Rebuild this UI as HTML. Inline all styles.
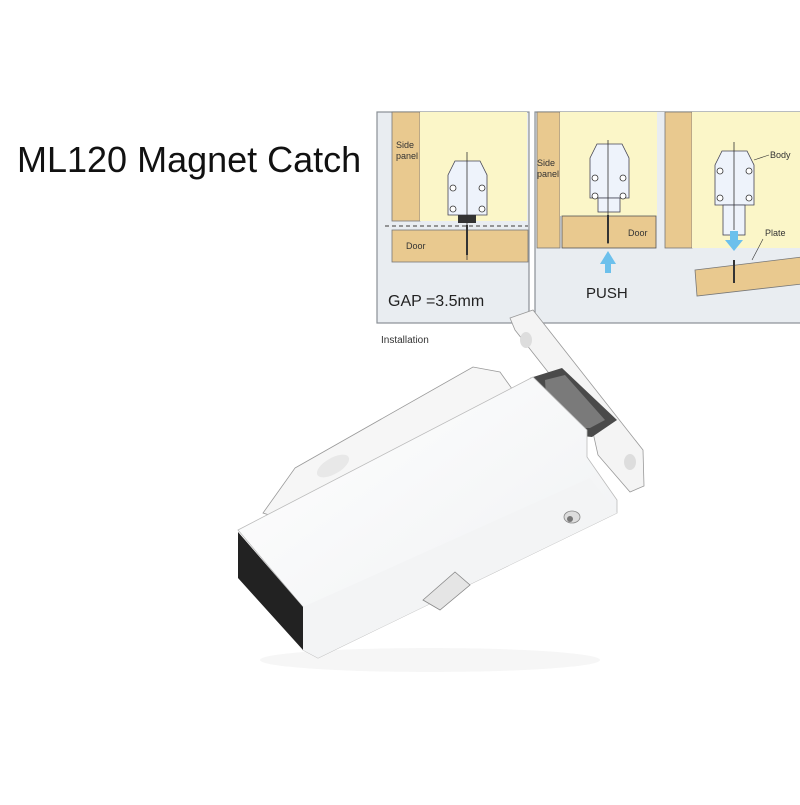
<!DOCTYPE html>
<html><head><meta charset="utf-8"><style>
html,body{margin:0;padding:0;background:#fff;}
</style></head><body>
<svg width="800" height="800" viewBox="0 0 800 800" xmlns="http://www.w3.org/2000/svg" font-family="Liberation Sans, Arial, sans-serif">
<rect width="800" height="800" fill="#fff"/>
<text x="17" y="172" font-size="36" fill="#111">ML120 Magnet Catch</text>

<!-- panel 1 -->
<rect x="377" y="112" width="152" height="211" fill="#e9edf1" stroke="#8a8f95" stroke-width="1.2"/>
<rect x="392" y="112" width="28" height="109" fill="#e9c98f" stroke="#777" stroke-width="0.8"/>
<rect x="420" y="112" width="107" height="109" fill="#fbf6c8"/>
<rect x="392" y="230" width="136" height="32" fill="#e9c98f" stroke="#777" stroke-width="0.8"/>
<line x1="385" y1="226" x2="528" y2="226" stroke="#777" stroke-width="1.5" stroke-dasharray="4 3"/>
<text x="396" y="148" font-size="9" fill="#333">Side</text>
<text x="396" y="159" font-size="9" fill="#333">panel</text>
<text x="406" y="249" font-size="9" fill="#333">Door</text>
<path d="M448 175 L455 161 L480 161 L487 175 L487 215 L448 215 Z" fill="#eef3fb" stroke="#445" stroke-width="0.8"/>
<rect x="458" y="215" width="18" height="8" fill="#333"/>
<line x1="467" y1="152" x2="467" y2="260" stroke="#333" stroke-width="0.8"/>
<line x1="467" y1="225" x2="467" y2="255" stroke="#333" stroke-width="2"/>
<circle cx="453" cy="188" r="3" fill="#fff" stroke="#333" stroke-width="0.8"/>
<circle cx="482" cy="188" r="3" fill="#fff" stroke="#333" stroke-width="0.8"/>
<circle cx="453" cy="209" r="3" fill="#fff" stroke="#333" stroke-width="0.8"/>
<circle cx="482" cy="209" r="3" fill="#fff" stroke="#333" stroke-width="0.8"/>
<text x="388" y="306" font-size="16" fill="#222">GAP =3.5mm</text>
<text x="381" y="343" font-size="10" fill="#333">Installation</text>

<!-- panel 2/3 -->
<rect x="535" y="112" width="270" height="211" fill="#e9edf1" stroke="#8a8f95" stroke-width="1.2"/>
<rect x="537" y="112" width="23" height="136" fill="#e9c98f" stroke="#777" stroke-width="0.8"/>
<rect x="560" y="112" width="97" height="104" fill="#fbf6c8"/>
<rect x="562" y="216" width="94" height="32" fill="#e9c98f" stroke="#555" stroke-width="0.8"/>
<rect x="657" y="112" width="8" height="150" fill="#e9edf1"/>
<text x="537" y="166" font-size="9" fill="#333">Side</text>
<text x="537" y="177" font-size="9" fill="#333">panel</text>
<text x="628" y="236" font-size="9" fill="#333">Door</text>
<path d="M590 158 L597 144 L622 144 L629 158 L629 198 L590 198 Z" fill="#eef3fb" stroke="#445" stroke-width="0.8"/>
<rect x="598" y="198" width="22" height="14" fill="#eef3fb" stroke="#445" stroke-width="0.8"/>
<line x1="608" y1="140" x2="608" y2="244" stroke="#333" stroke-width="0.8"/>
<line x1="608" y1="215" x2="608" y2="243" stroke="#333" stroke-width="2"/>
<circle cx="595" cy="178" r="3" fill="#fff" stroke="#333" stroke-width="0.8"/>
<circle cx="623" cy="178" r="3" fill="#fff" stroke="#333" stroke-width="0.8"/>
<circle cx="595" cy="196" r="3" fill="#fff" stroke="#333" stroke-width="0.8"/>
<circle cx="623" cy="196" r="3" fill="#fff" stroke="#333" stroke-width="0.8"/>
<path d="M600 264 L608 251 L616 264 L611 264 L611 273 L605 273 L605 264 Z" fill="#6cc0ec"/>
<text x="586" y="298" font-size="15" fill="#222">PUSH</text>

<rect x="665" y="112" width="27" height="136" fill="#e9c98f" stroke="#777" stroke-width="0.8"/>
<rect x="692" y="112" width="110" height="136" fill="#fbf6c8"/>
<path d="M715 165 L722 151 L747 151 L754 165 L754 205 L715 205 Z" fill="#eef3fb" stroke="#445" stroke-width="0.8"/>
<rect x="723" y="205" width="22" height="30" fill="#eef3fb" stroke="#445" stroke-width="0.8"/>
<line x1="734" y1="142" x2="734" y2="230" stroke="#333" stroke-width="0.8"/>
<circle cx="720" cy="171" r="3" fill="#fff" stroke="#333" stroke-width="0.8"/>
<circle cx="749" cy="171" r="3" fill="#fff" stroke="#333" stroke-width="0.8"/>
<circle cx="720" cy="198" r="3" fill="#fff" stroke="#333" stroke-width="0.8"/>
<circle cx="749" cy="198" r="3" fill="#fff" stroke="#333" stroke-width="0.8"/>
<text x="770" y="158" font-size="9" fill="#333">Body</text>
<line x1="754" y1="160" x2="769" y2="155" stroke="#333" stroke-width="0.6"/>
<path d="M730 231 L738 231 L738 240 L743 240 L734 251 L725 240 L730 240 Z" fill="#6cc0ec"/>
<polygon points="695,270 802,257 802,284 697,296" fill="#e9c98f" stroke="#777" stroke-width="0.8"/>
<line x1="734" y1="260" x2="734" y2="283" stroke="#333" stroke-width="2"/>
<text x="765" y="236" font-size="9" fill="#333">Plate</text>
<line x1="763" y1="239" x2="752" y2="260" stroke="#333" stroke-width="0.6"/>

<!-- product -->
<defs>
<linearGradient id="wg" x1="0" y1="0" x2="1" y2="1"><stop offset="0" stop-color="#ffffff"/><stop offset="1" stop-color="#eef0f2"/></linearGradient>
</defs>
<ellipse cx="430" cy="660" rx="170" ry="12" fill="#f6f6f6"/>
<polygon points="510,318 533,310 643,450 644,486 630,492 598,455 592,428 515,330" fill="#f4f4f4" stroke="#999" stroke-width="0.8"/>
<ellipse cx="526" cy="340" rx="6" ry="8" fill="#ddd"/>
<ellipse cx="630" cy="462" rx="6" ry="8" fill="#ddd"/>
<polygon points="295,468 473,367 500,372 520,400 300,525 263,513" fill="#f6f6f6" stroke="#999" stroke-width="0.8"/>
<polygon points="530,378 562,368 617,420 592,437 540,432" fill="#4a4a4a"/>
<polygon points="545,380 565,375 605,420 590,428 548,428" fill="#7a7a7a"/>
<polygon points="238,530 533,377 587,430 587,457 617,500 617,513 318,658 303,650 303,607" fill="url(#wg)" stroke="#bbb" stroke-width="0.8"/>
<polygon points="303,607 590,478 617,513 318,658 303,650" fill="#f3f4f5"/>
<polygon points="238,532 303,607 303,650 238,578" fill="#222"/>
<ellipse cx="572" cy="517" rx="8" ry="6" fill="#ddd" stroke="#888" stroke-width="0.8"/>
<circle cx="570" cy="519" r="3" fill="#777"/>
<path d="M423 600 L455 572 L470 585 L440 610 Z" fill="#e5e5e5" stroke="#888" stroke-width="0.8"/>
<ellipse cx="333" cy="466" rx="18" ry="8" fill="#e8e8e8" transform="rotate(-30 333 466)"/>
</svg>
</body></html>
